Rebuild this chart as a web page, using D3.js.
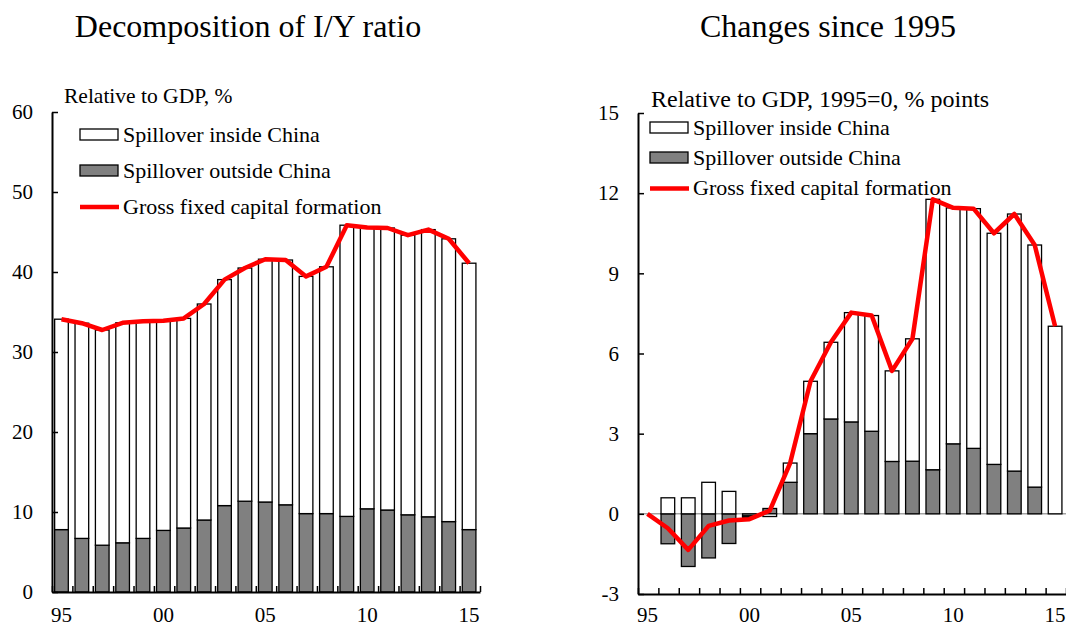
<!DOCTYPE html>
<html>
<head>
<meta charset="utf-8">
<script src="https://cdn.jsdelivr.net/npm/d3@7"></script>
<style>
  body { margin: 0; background: #fff; }
  svg { display: block; font-family: "Liberation Serif", "Times New Roman", serif; }
  .axis path, .axis line { stroke: #000; }
  .axis text { font-family: "Liberation Serif", "Times New Roman", serif; fill: #000; }
</style>
</head>
<body>
<svg id="chart" width="1066" height="627"></svg>
<script>
// Years on the horizontal axis and their short labels
const years = [1995, 1996, 1997, 1998, 1999, 2000, 2001, 2002, 2003, 2004, 2005,
               2006, 2007, 2008, 2009, 2010, 2011, 2012, 2013, 2014, 2015];
const labelYears = [1995, 2000, 2005, 2010, 2015];
const labelText = ["95", "00", "05", "10", "15"];

// Left panel: shares of GDP, %
const insideShare = [26.3, 26.9, 26.9, 27.5, 27.15, 26.2, 26.2, 27.0, 28.25, 29.15, 30.35,
                     30.6, 29.65, 30.85, 36.4, 35.15, 35.25, 34.95, 35.9, 35.35, 33.3];
const outsideShare = [7.8, 6.7, 5.85, 6.15, 6.7, 7.7, 8.0, 9.0, 10.8, 11.35, 11.25,
                      10.9, 9.8, 9.8, 9.45, 10.4, 10.25, 9.65, 9.4, 8.8, 7.8];
const gfcfShare = [34.1, 33.6, 32.75, 33.65, 33.85, 33.9, 34.2, 36.0, 39.05, 40.5, 41.6,
                   41.5, 39.45, 40.65, 45.85, 45.55, 45.5, 44.6, 45.3, 44.15, 41.1];
const leftTicks = [0, 10, 20, 30, 40, 50, 60];

// Right panel: changes since 1995, % points of GDP
const insideChange = [0, 0.6, 0.6, 1.18, 0.84, -0.05, -0.1, 0.72, 1.96, 2.87, 4.09,
                      4.33, 3.39, 4.58, 10.12, 8.83, 8.97, 8.65, 9.62, 9.06, 7.02];
const outsideChange = [0, -1.12, -1.97, -1.65, -1.11, -0.08, 0.2, 1.18, 3.0, 3.55, 3.44,
                       3.09, 1.96, 1.97, 1.65, 2.62, 2.45, 1.85, 1.6, 1.0, 0];
const gfcfChange = [0, -0.54, -1.35, -0.45, -0.25, -0.2, 0.12, 1.9, 4.96, 6.42, 7.53,
                    7.42, 5.35, 6.55, 11.77, 11.45, 11.42, 10.5, 11.22, 10.06, 7.02];
const rightTicks = [-3, 0, 3, 6, 9, 12, 15];

const legendNames = ["Spillover inside China", "Spillover outside China", "Gross fixed capital formation"];

const svg = d3.select("#chart");
const GRAY = "#808080";
const RED = "#ff0000";

function drawPanel(cfg) {
  const g = svg.append("g");

  // Title
  g.append("text")
    .attr("x", cfg.titleX).attr("y", 37)
    .attr("text-anchor", "middle")
    .style("font-size", "32px")
    .text(cfg.title);

  const x = d3.scaleBand().domain(years).range([cfg.x0, cfg.x1]).padding(0);
  const bw = x.bandwidth();
  const barOff = bw * 0.13, barW = bw * 0.67;
  const xc = yr => x(yr) + barOff + barW / 2;
  const y = d3.scaleLinear().domain(cfg.yDomain).range([cfg.yBottom, cfg.yTop]);

  // Zero reference line
  if (cfg.zeroLine) {
    g.append("line")
      .attr("x1", cfg.x0).attr("x2", cfg.x1)
      .attr("y1", y(0)).attr("y2", y(0))
      .attr("stroke", "#777").attr("stroke-width", 1);
  }

  // Stacked bars
  const rows = years.map((yr, i) => ({ year: yr, outside: cfg.outside[i], inside: cfg.inside[i] }));
  const stack = d3.stack().keys(["outside", "inside"]).offset(d3.stackOffsetDiverging);
  const series = stack(rows);
  const fills = { outside: GRAY, inside: "#fff" };

  series.forEach(s => {
    g.append("g").selectAll("rect")
      .data(s.filter(d => Math.abs(d[1] - d[0]) > 1e-9))
      .join("rect")
      .attr("x", d => x(d.data.year) + barOff)
      .attr("width", barW)
      .attr("y", d => y(Math.max(d[0], d[1])))
      .attr("height", d => Math.abs(y(d[0]) - y(d[1])))
      .attr("fill", fills[s.key])
      .attr("stroke", "#000")
      .attr("stroke-width", 1.3);
  });

  // Gross fixed capital formation line
  const line = d3.line().x((d, i) => xc(years[i])).y(d => y(d));
  g.append("path")
    .datum(cfg.gfcf)
    .attr("d", line)
    .attr("fill", "none")
    .attr("stroke", RED)
    .attr("stroke-width", 4.5)
    .attr("stroke-linejoin", "round");

  // Y axis with inward ticks
  const yAxis = g.append("g")
    .attr("class", "axis")
    .attr("transform", `translate(${cfg.x0},0)`)
    .call(d3.axisLeft(y).tickValues(cfg.yTicks).tickSize(-6).tickSizeOuter(0)
      .tickPadding(19).tickFormat(d => String(d)));
  yAxis.select(".domain").attr("stroke-width", 2);
  yAxis.selectAll(".tick line").attr("stroke-width", 1.5);
  yAxis.selectAll("text").style("font-size", "21px");

  // X axis: tick marks at band boundaries
  const idx = d3.scaleLinear().domain([0, years.length]).range([cfg.x0, cfg.x1]);
  const xAxis = g.append("g")
    .attr("class", "axis")
    .attr("transform", `translate(0,${cfg.yBottom})`)
    .call(d3.axisBottom(idx).ticks(years.length).tickSize(-6).tickSizeOuter(0).tickFormat(""));
  xAxis.select(".domain").attr("stroke-width", 2);
  xAxis.selectAll(".tick line").attr("stroke-width", 1.5);

  // X labels at the bar centres
  g.append("g").selectAll("text")
    .data(labelYears)
    .join("text")
    .attr("x", d => xc(d))
    .attr("y", 622)
    .attr("text-anchor", "middle")
    .style("font-size", "21px")
    .text((d, i) => labelText[i]);

  // Legend
  const L = cfg.legend;
  g.append("text")
    .attr("x", L.headX).attr("y", L.headY)
    .style("font-size", L.headSize + "px")
    .text(cfg.unit);
  [0, 1].forEach(k => {
    g.append("rect")
      .attr("x", L.boxX).attr("y", L.rowY[k] - 12)
      .attr("width", 38).attr("height", 11)
      .attr("fill", k === 0 ? "#fff" : GRAY)
      .attr("stroke", "#000").attr("stroke-width", 1.3);
  });
  g.append("line")
    .attr("x1", L.boxX).attr("x2", L.boxX + 39)
    .attr("y1", L.lineY).attr("y2", L.lineY)
    .attr("stroke", RED).attr("stroke-width", 4.5);
  legendNames.forEach((name, k) => {
    g.append("text")
      .attr("x", L.boxX + 43).attr("y", L.rowY[k] + 1)
      .style("font-size", "22px")
      .text(name);
  });
}

drawPanel({
  title: "Decomposition of I/Y ratio", titleX: 248,
  unit: "Relative to GDP, %",
  x0: 52, x1: 480, yBottom: 592, yTop: 112, yDomain: [0, 60], yTicks: leftTicks,
  inside: insideShare, outside: outsideShare, gfcf: gfcfShare, zeroLine: false,
  legend: { headX: 64, headY: 103, headSize: 21.5, boxX: 80, rowY: [141, 177, 213], lineY: 207 }
});

drawPanel({
  title: "Changes since 1995", titleX: 828,
  unit: "Relative to GDP, 1995=0, % points",
  x0: 638, x1: 1066, yBottom: 594, yTop: 113, yDomain: [-3, 15], yTicks: rightTicks,
  inside: insideChange, outside: outsideChange, gfcf: gfcfChange, zeroLine: true,
  legend: { headX: 651, headY: 107, headSize: 24, boxX: 650, rowY: [134, 164, 194], lineY: 188.5 }
});
</script>
</body>
</html>
